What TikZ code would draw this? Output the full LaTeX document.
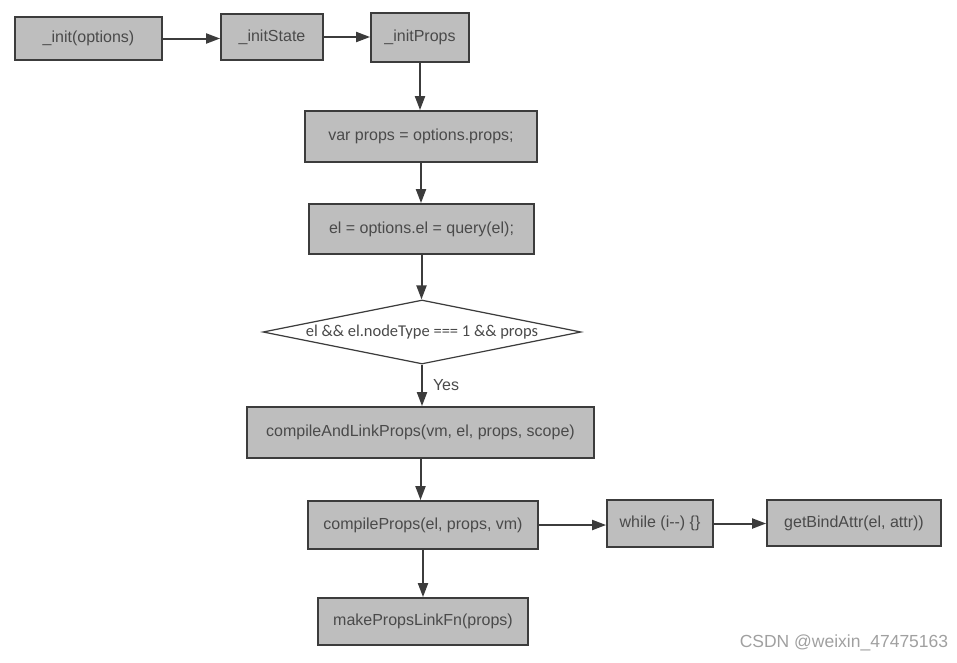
\documentclass[tikz,border=0pt]{standalone}
\usepackage{fontspec}
\setmainfont{Liberation Sans}
\newfontfamily\diamondfont{Carlito}
\usetikzlibrary{positioning,arrows.meta,shapes.geometric}
\definecolor{boxgray}{HTML}{BEBEBE}
\definecolor{linegray}{HTML}{3C3C3C}
\definecolor{textgray}{HTML}{4A4A4A}
\definecolor{markgray}{HTML}{A0A0A0}
\tikzset{
stepbox/.style={draw=linegray, line width=1.8pt, fill=boxgray, text=textgray, inner sep=0pt, font=\fontsize{16}{18}\selectfont},
decision/.style={diamond, draw=linegray, line width=1.2pt, fill=white, aspect=5, inner sep=0pt, text=textgray, font=\diamondfont\fontsize{16.5}{18}\selectfont},
flow/.style={draw=linegray, line width=2pt, -{Triangle[length=14pt,width=10pt]}},
flowlabel/.style={text=textgray, font=\fontsize{16}{18}\selectfont, inner sep=0pt},
watermark/.style={text=markgray, font=\fontsize{17.5}{19}\selectfont, inner sep=0pt}
}

\begin{document}
\begin{tikzpicture}[x=1pt,y=-1pt]
\useasboundingbox (0,0) rectangle (957,662);
\node[stepbox, minimum width=147pt, minimum height=43pt] (init) at (88.5,38.5) {\_init(options)};
\node[stepbox, minimum width=102pt, minimum height=46pt] (initState) at (272,37) {\_initState};
\node[stepbox, minimum width=98pt, minimum height=49pt] (initProps) at (420,37.5) {\_initProps};
\node[stepbox, minimum width=232pt, minimum height=51pt] (varProps) at (421,136.5) {var props = options.props;};
\node[stepbox, minimum width=225pt, minimum height=50pt] (queryEl) at (421.5,229) {el = options.el = query(el);};
\node[decision, minimum width=318pt, minimum height=64pt] (check) at (422,332) {el \&\& el.nodeType === 1 \&\& props};
\node[stepbox, minimum width=347pt, minimum height=51pt] (compileLink) at (420.5,432.5) {compileAndLinkProps(vm, el, props, scope)};
\node[stepbox, minimum width=230pt, minimum height=48pt] (compileProps) at (423,525) {compileProps(el, props, vm)};
\node[stepbox, minimum width=106pt, minimum height=47pt] (whileLoop) at (660,523.5) {while (i{-}{-}) \{\}};
\node[stepbox, minimum width=174pt, minimum height=46pt] (bindAttr) at (854,523) {getBindAttr(el, attr))};
\node[stepbox, minimum width=210pt, minimum height=47pt] (linkFn) at (423,621.5) {makePropsLinkFn(props)};
\node[watermark] (csdn) at (844,643) {CSDN @weixin\_47475163};

\draw[flow] (init.east) -- (init.east -| initState.west);
\draw[flow] (initState.east) -- (initState.east -| initProps.west);
\draw[flow] (initProps.south) -- (initProps.south |- varProps.north);
\draw[flow] (varProps.south) -- (varProps.south |- queryEl.north);
\draw[flow] (queryEl.south) -- (queryEl.south |- check.north);
\draw[flow] (check.south) -- node[flowlabel, right=10pt] (yes) {Yes} (check.south |- compileLink.north);
\draw[flow] (compileLink.south) -- (compileLink.south |- compileProps.north);
\draw[flow] (compileProps.east) -- (compileProps.east -| whileLoop.west);
\draw[flow] (whileLoop.east) -- (whileLoop.east -| bindAttr.west);
\draw[flow] (compileProps.south) -- (compileProps.south |- linkFn.north);
\end{tikzpicture}
\end{document}
